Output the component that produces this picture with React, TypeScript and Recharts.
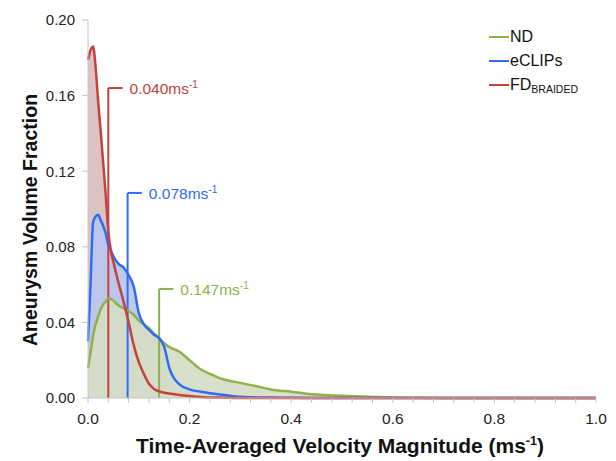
import { ComposedChart, Area, Line, XAxis, YAxis, ReferenceLine, Legend } from 'recharts';

// velocity samples (m/s) shared by the three distributions
const velocity = [
  0, 0.005, 0.01, 0.015, 0.02, 0.025, 0.03, 0.035, 0.04, 0.045, 0.05, 0.06, 0.07, 0.08, 0.09,
  0.1, 0.11, 0.12, 0.13, 0.14, 0.15, 0.16, 0.18, 0.2, 0.22, 0.24, 0.26, 0.28, 0.3, 0.33, 0.36,
  0.4, 0.45, 0.5, 0.55, 0.6, 0.65, 0.7, 0.8, 0.9, 1.0,
];

const ndFraction = [
  0.016, 0.024, 0.033, 0.039, 0.043, 0.047, 0.0495, 0.051, 0.0528, 0.0525, 0.0515, 0.049, 0.0475, 0.046, 0.044,
  0.041, 0.039, 0.037, 0.034, 0.0317, 0.029, 0.027, 0.0245, 0.02, 0.0155, 0.0128, 0.0104, 0.009, 0.008, 0.0063, 0.0045,
  0.0033, 0.0018, 0.0012, 0.0007, 0.0003, 0.0001, 0, 0, 0, 0,
];

const eclipsFraction = [
  0.03, 0.06, 0.093, 0.096, 0.097, 0.094, 0.091, 0.087, 0.081, 0.078, 0.075, 0.071, 0.069, 0.065, 0.059,
  0.045, 0.039, 0.036, 0.0335, 0.0317, 0.027, 0.016, 0.0072, 0.0046, 0.0034, 0.0025, 0.0018, 0.0012, 0.0006, 0.0003, 0.0002,
  0.0001, 0, 0, 0, 0, 0, 0, 0, 0, 0,
];

const fdFraction = [
  0.179, 0.184, 0.186, 0.175, 0.157, 0.141, 0.124, 0.107, 0.088, 0.078, 0.072, 0.061, 0.051, 0.04, 0.028,
  0.019, 0.0127, 0.0075, 0.0048, 0.0035, 0.0028, 0.0024, 0.0016, 0.001, 0.0005, 0.0003, 0.0002, 0.0001, 0, 0, 0,
  0, 0, 0, 0, 0, 0, 0, 0, 0, 0,
];

const xTicks = [
  0, 0.04, 0.08, 0.12, 0.16, 0.2, 0.24, 0.28, 0.32, 0.36, 0.4, 0.44, 0.48, 0.52, 0.56, 0.6,
  0.64, 0.68, 0.72, 0.76, 0.8, 0.84, 0.88, 0.92, 0.96, 1.0,
];
const xLabelled = [0, 0.2, 0.4, 0.6, 0.8, 1.0];
const yTicks = [0, 0.04, 0.08, 0.12, 0.16, 0.2];

// median markers: where the line sits, bracket height, printed value
const markerX = [0.04, 0.078, 0.14];
const markerTop = [0.164, 0.1085, 0.0577];
const markerText = ['0.040', '0.078', '0.147'];

const COLORS = { nd: '#8db14b', eclips: '#2f6cf5', fd: '#c1433c' };
const FILLS = { nd: '#d6ddc6', eclips: '#b9c6ee', fd: '#dcc3c2' };
const markerColors = [COLORS.fd, COLORS.eclips, COLORS.nd];

const FONT = '"Liberation Sans", Arial, Helvetica, sans-serif';

const chartData = velocity.map((v, i) => ({
  v,
  nd: ndFraction[i],
  eclips: eclipsFraction[i],
  fd: fdFraction[i],
}));

function MarkerLabel(props: any) {
  const vb = props.viewBox || {};
  const right = vb.x2 != null ? Math.max(vb.x1, vb.x2) : vb.x + (vb.width || 0);
  const y = vb.y1 != null ? vb.y1 : vb.y;
  return (
    <text x={right + 7} y={y} dy="0.36em" fill={props.color} fontSize={15.5} fontFamily={FONT}>
      {props.value}ms
      <tspan dy={-6} fontSize={10}>-1</tspan>
    </text>
  );
}

function YTitle() {
  const x = 30;
  const y = 220;
  return (
    <text
      x={x}
      y={y}
      transform={`rotate(-90 ${x} ${y})`}
      textAnchor="middle"
      dominantBaseline="central"
      fontSize={19.5}
      fontWeight="bold"
      fontFamily={FONT}
      fill="#111"
    >
      Aneurysm Volume Fraction
    </text>
  );
}

function XTitle(props: any) {
  const vb = props.viewBox || {};
  return (
    <text x={340} y={vb.y + 55} textAnchor="middle" fontSize={21} fontWeight="bold" fontFamily={FONT} fill="#111">
      Time-Averaged Velocity Magnitude (ms
      <tspan dy={-8} fontSize={12.5}>-1</tspan>
      <tspan dy={8}>)</tspan>
    </text>
  );
}

const legendItems = [
  { key: 'nd', label: 'ND', sub: '' },
  { key: 'eclips', label: 'eCLIPs', sub: '' },
  { key: 'fd', label: 'FD', sub: 'BRAIDED' },
];

function LegendBox() {
  return (
    <div style={{ fontFamily: FONT, fontSize: 16, color: '#111' }}>
      {legendItems.map((it) => (
        <div key={it.key} style={{ display: 'flex', alignItems: 'center', height: 24 }}>
          <span
            style={{
              display: 'inline-block',
              width: 20,
              height: 2.5,
              background: (COLORS as any)[it.key],
              marginRight: 1,
            }}
          />
          <span>
            {it.label}
            {it.sub && <sub style={{ fontSize: 10.5, verticalAlign: '-3px' }}>{it.sub}</sub>}
          </span>
        </div>
      ))}
    </div>
  );
}

export default function App() {
  return (
    <div style={{ position: 'absolute', left: 0, top: 0, background: '#fff' }}>
      <ComposedChart
        width={616}
        height={461}
        data={chartData}
        margin={{ top: 20, right: 20, left: 30, bottom: 0 }}
      >
        <XAxis
          dataKey="v"
          type="number"
          domain={[0, 1]}
          ticks={xTicks}
          interval={0}
          height={63}
          tickSize={5}
          tickMargin={10}
          stroke="#c4c4c4"
          tick={{ fill: '#222', fontSize: 15.5, fontFamily: FONT }}
          tickFormatter={(t: number) => (xLabelled.some((l) => Math.abs(l - t) < 1e-6) ? t.toFixed(1) : '')}
          label={<XTitle />}
        />
        <YAxis
          type="number"
          domain={[0, 0.2]}
          ticks={yTicks}
          interval={0}
          width={58}
          tickSize={6}
          tickMargin={7}
          stroke="#c4c4c4"
          tick={{ fill: '#222', fontSize: 15, fontFamily: FONT }}
          tickFormatter={(t: number) => t.toFixed(2)}
          label={<YTitle />}
        />
        <Legend
          layout="vertical"
          align="center"
          verticalAlign="middle"
          wrapperStyle={{ left: 489, top: 25, width: 120 }}
          content={() => <LegendBox />}
        />

        <Area type="monotone" dataKey="fd" stroke="none" fill={FILLS.fd} fillOpacity={1} isAnimationActive={false} legendType="none" />
        <Area type="monotone" dataKey="eclips" stroke="none" fill={FILLS.eclips} fillOpacity={0.95} isAnimationActive={false} legendType="none" />
        <Area type="monotone" dataKey="nd" stroke="none" fill={FILLS.nd} fillOpacity={0.92} isAnimationActive={false} legendType="none" />

        {markerX.map((mx, i) => (
          <ReferenceLine
            key={`v${i}`}
            segment={[{ x: mx, y: 0 }, { x: mx, y: markerTop[i] }]}
            stroke={markerColors[i]}
            strokeWidth={2}
          />
        ))}
        {markerX.map((mx, i) => (
          <ReferenceLine
            key={`h${i}`}
            segment={[{ x: mx, y: markerTop[i] }, { x: mx + 0.028, y: markerTop[i] }]}
            stroke={markerColors[i]}
            strokeWidth={2}
            label={(p: any) => <MarkerLabel {...p} value={markerText[i]} color={markerColors[i]} />}
          />
        ))}

        <Line type="monotone" dataKey="nd" stroke={COLORS.nd} strokeWidth={2.5} dot={false} isAnimationActive={false} />
        <Line type="monotone" dataKey="eclips" stroke={COLORS.eclips} strokeWidth={2.5} dot={false} isAnimationActive={false} />
        <Line type="monotone" dataKey="fd" stroke={COLORS.fd} strokeWidth={2.5} dot={false} isAnimationActive={false} />
      </ComposedChart>
    </div>
  );
}
